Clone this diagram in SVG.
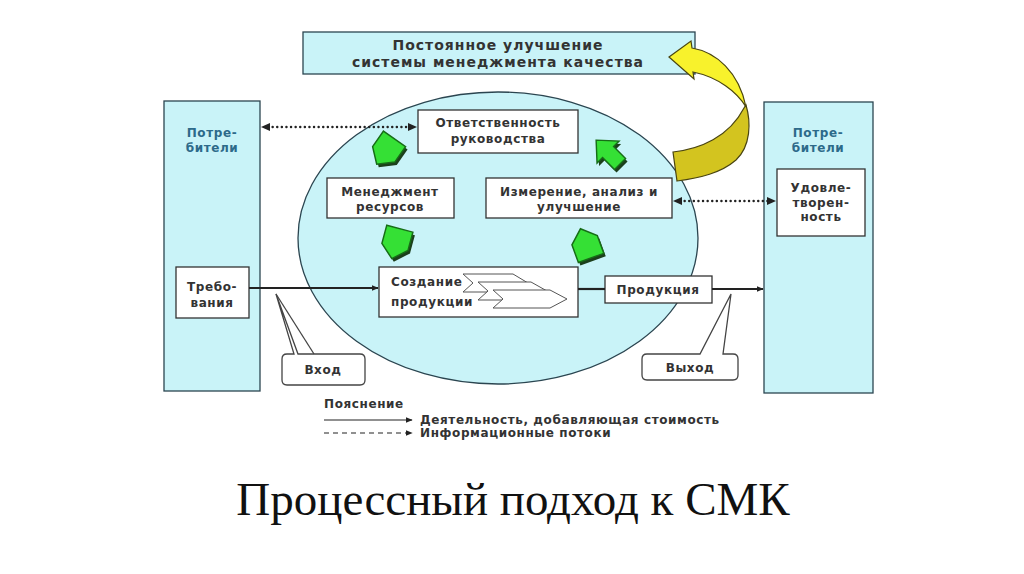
<svg xmlns="http://www.w3.org/2000/svg" width="1024" height="574" viewBox="0 0 1024 574">
<style>
.box{fill:#fff;stroke:#333;stroke-width:1.3}
.cy{fill:#c9f3f8;stroke:#2b4550;stroke-width:1.3}
.t{font-family:"DejaVu Sans","Liberation Sans",sans-serif;font-weight:bold;font-size:12px;fill:#333;text-anchor:middle;letter-spacing:0.6px}
.tl{text-anchor:start}
.blue{fill:#2d6a8a}
.big{font-size:14px;letter-spacing:1px}
.flow{stroke:#222;stroke-width:2.2;fill:none}
.dot{stroke:#222;stroke-width:2.4;fill:none;stroke-dasharray:0.1 4.5;stroke-linecap:round}
.thin{stroke:#222;stroke-width:1.2;fill:none}
.green{fill:#35e035;stroke:#176d17;stroke-width:1.1}
.gshadow{fill:#1c3f1c}
.chev{fill:#fff;stroke:#555;stroke-width:1}
.callout{fill:#fff;stroke:#444;stroke-width:1.3}
</style>
<defs>
<marker id="ahs" viewBox="0 0 10 10" refX="9" refY="5" markerWidth="7" markerHeight="7" orient="auto-start-reverse" markerUnits="userSpaceOnUse">
<path d="M0,1 L10,5 L0,9 Z" fill="#222"/>
</marker>
<path id="pent" d="M-10,-11 L10,-11 L10,3 L0,12 L-10,3 Z"/>
<path id="barrow" d="M0,-14 L12,-1 L6,-1 L6,12 L-6,12 L-6,-1 L-12,-1 Z"/>
</defs>
<rect width="1024" height="574" fill="#fff"/>

<g id="improvement">
<rect x="303" y="32" width="392" height="42" class="cy"/>
<text class="t big" x="498" y="50">Постоянное улучшение</text>
<text class="t big" x="498" y="67">системы менеджмента качества</text>
</g>

<g id="process-circle">
<ellipse cx="498" cy="238" rx="200" ry="146" class="cy"/>
</g>

<g id="customers-left">
<rect x="164" y="101" width="96" height="290" class="cy"/>
<text class="t blue" x="212" y="137">Потре-</text>
<text class="t blue" x="212" y="152">бители</text>
</g>
<g id="requirements">
<rect x="176" y="267" width="73" height="51" class="box"/>
<text class="t" x="212" y="291">Требо-</text>
<text class="t" x="212" y="307">вания</text>
</g>

<g id="customers-right">
<rect x="764" y="102" width="109" height="291" class="cy"/>
<text class="t blue" x="818" y="137">Потре-</text>
<text class="t blue" x="818" y="152">бители</text>
</g>
<g id="satisfaction">
<rect x="777" y="169" width="88" height="67" class="box"/>
<text class="t" x="821" y="192">Удовле-</text>
<text class="t" x="821" y="207">творен-</text>
<text class="t" x="821" y="221">ность</text>
</g>

<g id="responsibility">
<rect x="418" y="110" width="160" height="43" class="box"/>
<text class="t" x="498" y="127">Ответственность</text>
<text class="t" x="498" y="143">руководства</text>
</g>

<g id="resources">
<rect x="327" y="178" width="127" height="40" class="box"/>
<text class="t" x="390" y="196">Менеджмент</text>
<text class="t" x="390" y="211">ресурсов</text>
</g>

<g id="measurement">
<rect x="486" y="178" width="186" height="40" class="box"/>
<text class="t" x="579" y="196">Измерение, анализ и</text>
<text class="t" x="579" y="211">улучшение</text>
</g>

<g id="realization">
<rect x="379" y="267" width="199" height="50" class="box"/>
<text class="t tl" x="391" y="286">Создание</text>
<text class="t tl" x="391" y="306">продукции</text>
<path class="chev" d="M463,274 H513 L528,283 L513,292 H463 L473,283 Z"/>
<path class="chev" d="M478,282 H531 L547,291 L531,300 H478 L488,291 Z"/>
<path class="chev" d="M493,290 H550 L567,299 L550,308 H493 L503,299 Z"/>
</g>

<g id="product">
<rect x="605" y="276" width="107" height="27" class="box"/>
<text class="t" x="658" y="294">Продукция</text>
</g>

<g id="input-callout">
<path class="callout" d="M276,294 L298,354 H360 Q365,354 365,359 V380 Q365,385 360,385 H287 Q282,385 282,380 V359 Q282,354 287,354 H294 Z"/>
<path class="callout" d="M276,294 L314,354" fill="none"/>
<text class="t" x="323" y="374">Вход</text>
</g>

<g id="output-callout">
<path class="callout" d="M731,294 L723,354 H733 Q738,354 738,359 V375 Q738,380 733,380 H647 Q642,380 642,375 V359 Q642,354 647,354 H700 Z"/>
<text class="t" x="690" y="372">Выход</text>
</g>

<g id="connectors">
<line class="flow" x1="249" y1="288" x2="378" y2="288" marker-end="url(#ahs)"/>
<line class="flow" x1="578" y1="289" x2="605" y2="289"/>
<line class="flow" x1="712" y1="289" x2="763" y2="289" marker-end="url(#ahs)"/>
<line class="dot" x1="268" y1="127" x2="410" y2="127"/>
<path d="M261,127 L270,123 L270,131 Z M417,127 L408,123 L408,131 Z" fill="#222"/>
<line class="dot" x1="680" y1="201" x2="769" y2="201"/>
<path d="M673,201 L682,197 L682,205 Z M776,201 L767,197 L767,205 Z" fill="#222"/>
</g>

<g id="green-arrows">
<use href="#pent" class="gshadow" transform="translate(388,154) rotate(35) scale(1.35)"/>
<use href="#pent" class="green" transform="translate(386,151) rotate(35) scale(1.35)"/>
<use href="#barrow" class="gshadow" transform="translate(611,156) rotate(-45) scale(1.3)"/>
<use href="#barrow" class="green" transform="translate(609,153) rotate(-45) scale(1.3)"/>
<use href="#pent" class="gshadow" transform="translate(398,246) rotate(15) scale(1.35)"/>
<use href="#pent" class="green" transform="translate(396,243) rotate(15) scale(1.35)"/>
<use href="#pent" class="gshadow" transform="translate(588,247) rotate(160) scale(1.35)"/>
<use href="#pent" class="green" transform="translate(586,244) rotate(160) scale(1.35)"/>
</g>

<g id="improvement-arrow">
<path d="M746,105 C751,122 751,146 736,160 C721,173 700,178 677,181 L673,152 C700,149 729,137 744,108 Z" fill="#d3c41f" stroke="#4a4510" stroke-width="1.2"/>
<path d="M669,57 L691,41 L692,48 C716,52 739,72 746,107 C737,92 718,77 693,72 L694,79 Z" fill="#f8f22c" stroke="#4a4510" stroke-width="1.2"/>
</g>

<g id="legend">
<text class="t tl" x="324" y="408" font-size="11">Пояснение</text>
<line class="thin" x1="324" y1="420" x2="412" y2="420" marker-end="url(#ahs)"/>
<text class="t tl" x="420" y="424">Деятельность, добавляющая стоимость</text>
<line class="thin" x1="324" y1="433" x2="412" y2="433" stroke-dasharray="5 4" marker-end="url(#ahs)"/>
<text class="t tl" x="420" y="437">Информационные потоки</text>
</g>

<g id="title">
<text x="513" y="515" font-family="'Liberation Serif','Times New Roman',serif" font-size="47" fill="#111" text-anchor="middle">Процессный подход к СМК</text>
</g>
</svg>
